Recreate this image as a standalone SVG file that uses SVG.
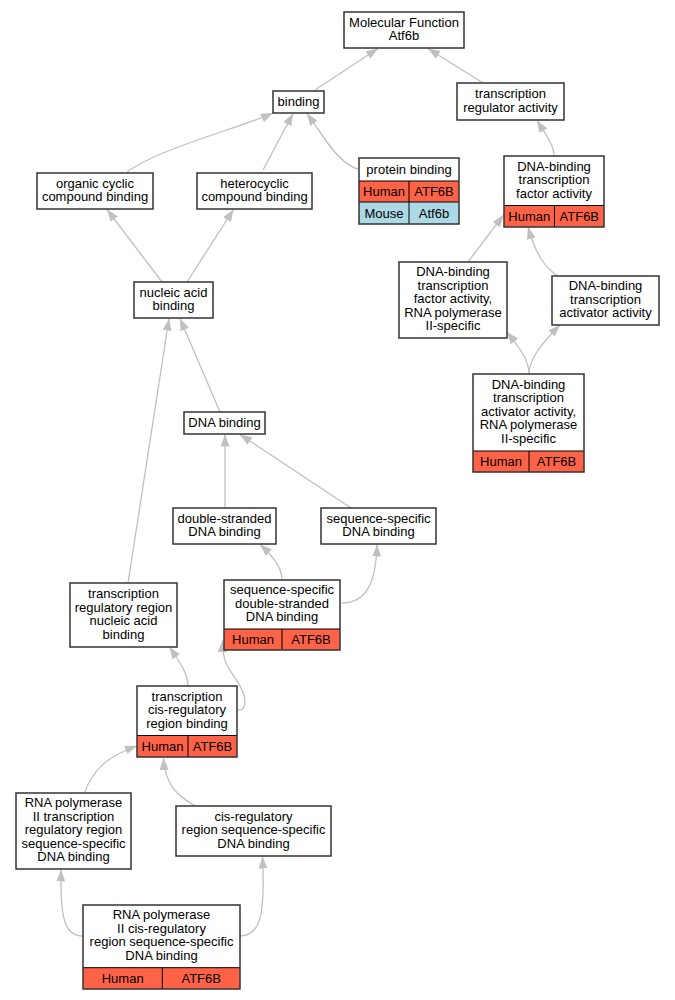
<svg xmlns="http://www.w3.org/2000/svg" width="675" height="1000" viewBox="0 0 675 1000">
<defs>
<style>
text{font-family:"Liberation Sans",Arial,sans-serif;font-size:13px;fill:#000;text-anchor:middle}
.box{fill:#fff;stroke:#333;stroke-width:1.5}
.frame{fill:none;stroke:#333;stroke-width:1.5}
.top{fill:#fff}
.hum{fill:#ff6347}
.mou{fill:#add8e6}
.cell{fill:none;stroke:#000;stroke-width:1}
.edge{fill:none;stroke:#c0c0c0;stroke-width:1.3;marker-end:url(#ah)}
</style>
<marker id="ah" viewBox="0 0 12 9" refX="12" refY="4.5" markerWidth="12" markerHeight="9" markerUnits="userSpaceOnUse" orient="auto">
<path d="M0,0 L12,4.5 L0,9 z" fill="#c0c0c0"/>
</marker>
</defs>
<rect width="675" height="1000" fill="#fff"/>
<g id="edges">
<path class="edge" d="M315,90 L378,48.5"/>
<path class="edge" d="M483,83 L428,48.5"/>
<path class="edge" d="M554,156 C554,146 548,138 537,120.5"/>
<path class="edge" d="M127,172 C160,148 240,128 273,113"/>
<path class="edge" d="M263,170 L293,113.5"/>
<path class="edge" d="M358,169 C347,166 337,156 327,142 L307,113.5"/>
<path class="edge" d="M162,282 L107,209.5"/>
<path class="edge" d="M187,282 L233.5,209.5"/>
<path class="edge" d="M468,262 L503.5,215"/>
<path class="edge" d="M558,276 C545,268 536,255 528,227"/>
<path class="edge" d="M529,374 C529,362 523,352 507,332"/>
<path class="edge" d="M529,374 C529,360 540,345 560,325"/>
<path class="edge" d="M220,412 L180,318.5"/>
<path class="edge" d="M128,583 L169,318.5"/>
<path class="edge" d="M225,508 L225,434.5"/>
<path class="edge" d="M351,508 L240,434.5"/>
<path class="edge" d="M282,580 C282,570 277,560 260,544.5"/>
<path class="edge" d="M342,603 C365,603 376,585 377,544.5"/>
<path class="edge" d="M188,686 C188,675 182,665 169.5,647"/>
<path class="edge" d="M238,710 C248,710 246,697 240,686 C232,671 222,666 222.5,640"/>
<path class="edge" d="M85,792 C92,772 105,757 137,746"/>
<path class="edge" d="M195,806 C180,797 165,787 163.5,758"/>
<path class="edge" d="M83,936 C65,936 60,920 61,869.5"/>
<path class="edge" d="M240,936 C262,936 265,910 262.5,856.5"/>
</g>
<g id="n_mf">
<rect class="box" x="344" y="12" width="120" height="36"/>
<text x="404" y="26.6">Molecular Function</text>
<text x="404" y="40.1">Atf6b</text>
</g>
<g id="n_binding">
<rect class="box" x="273" y="91" width="51" height="22"/>
<text x="298.5" y="106.3">binding</text>
</g>
<g id="n_tra">
<rect class="box" x="457" y="83" width="107" height="37"/>
<text x="510.5" y="98.1">transcription</text>
<text x="510.5" y="111.6">regulator activity</text>
</g>
<g id="n_protein">
<rect class="top" x="359" y="158" width="100" height="23"/>
<rect class="hum" x="359" y="181" width="100" height="21"/>
<rect class="mou" x="359" y="202" width="100" height="22"/>
<path class="cell" d="M359,181 H459 M359,202 H459 M409,181 V224"/>
<rect class="frame" x="359" y="158" width="100" height="66"/>
<text x="409" y="173.8">protein binding</text>
<text x="384" y="196">Human</text>
<text x="434" y="196">ATF6B</text>
<text x="384" y="217.5">Mouse</text>
<text x="434" y="217.5">Atf6b</text>
</g>
<g id="n_dbtf">
<rect class="top" x="504" y="156" width="100" height="49.5"/>
<rect class="hum" x="504" y="205.5" width="100" height="21.5"/>
<path class="cell" d="M504,205.5 H604 M554.5,205.5 V227"/>
<rect class="frame" x="504" y="156" width="100" height="71"/>
<text x="554" y="170.5">DNA-binding</text>
<text x="554" y="184">transcription</text>
<text x="554" y="197.5">factor activity</text>
<text x="529.3" y="220.8">Human</text>
<text x="579.3" y="220.8">ATF6B</text>
</g>
<g id="n_occb">
<rect class="box" x="37" y="173" width="116" height="36"/>
<text x="95" y="187.5">organic cyclic</text>
<text x="95" y="201">compound binding</text>
</g>
<g id="n_hccb">
<rect class="box" x="197" y="173" width="115" height="36"/>
<text x="254.5" y="187.5">heterocyclic</text>
<text x="254.5" y="201">compound binding</text>
</g>
<g id="n_nab">
<rect class="box" x="134" y="282" width="79" height="36"/>
<text x="173.5" y="296.5">nucleic acid</text>
<text x="173.5" y="310">binding</text>
</g>
<g id="n_dbtf2">
<rect class="box" x="399" y="262" width="108" height="76"/>
<text x="453" y="276.3">DNA-binding</text>
<text x="453" y="289.8">transcription</text>
<text x="453" y="303.3">factor activity,</text>
<text x="453" y="316.8">RNA polymerase</text>
<text x="453" y="330.3">II-specific</text>
</g>
<g id="n_dbta">
<rect class="box" x="552" y="276" width="107" height="49"/>
<text x="605.5" y="290.3">DNA-binding</text>
<text x="605.5" y="303.8">transcription</text>
<text x="605.5" y="317.3">activator activity</text>
</g>
<g id="n_dbta2">
<rect class="top" x="473" y="374" width="111" height="77"/>
<rect class="hum" x="473" y="451" width="111" height="21"/>
<path class="cell" d="M473,451 H584 M529,451 V472"/>
<rect class="frame" x="473" y="374" width="111" height="98"/>
<text x="528.5" y="388.8">DNA-binding</text>
<text x="528.5" y="402.3">transcription</text>
<text x="528.5" y="415.8">activator activity,</text>
<text x="528.5" y="429.3">RNA polymerase</text>
<text x="528.5" y="442.8">II-specific</text>
<text x="501" y="466">Human</text>
<text x="556.5" y="466">ATF6B</text>
</g>
<g id="n_dnab">
<rect class="box" x="184" y="412" width="81" height="22"/>
<text x="224.5" y="427.3">DNA binding</text>
</g>
<g id="n_dsdb">
<rect class="box" x="173" y="508" width="103" height="36"/>
<text x="224.5" y="522.5">double-stranded</text>
<text x="224.5" y="536">DNA binding</text>
</g>
<g id="n_ssdb">
<rect class="box" x="321" y="508" width="115" height="36"/>
<text x="378.5" y="522.5">sequence-specific</text>
<text x="378.5" y="536">DNA binding</text>
</g>
<g id="n_trrnab">
<rect class="box" x="70" y="583" width="107" height="64"/>
<text x="123.5" y="598">transcription</text>
<text x="123.5" y="611.5">regulatory region</text>
<text x="123.5" y="625">nucleic acid</text>
<text x="123.5" y="638.5">binding</text>
</g>
<g id="n_ssdsdb">
<rect class="top" x="224" y="580" width="116" height="49"/>
<rect class="hum" x="224" y="629" width="116" height="21"/>
<path class="cell" d="M224,629 H340 M282,629 V650"/>
<rect class="frame" x="224" y="580" width="116" height="70"/>
<text x="282" y="594.3">sequence-specific</text>
<text x="282" y="607.8">double-stranded</text>
<text x="282" y="621.3">DNA binding</text>
<text x="253" y="644">Human</text>
<text x="311" y="644">ATF6B</text>
</g>
<g id="n_tcrrb">
<rect class="top" x="137" y="686" width="100" height="49.5"/>
<rect class="hum" x="137" y="735.5" width="100" height="21.5"/>
<path class="cell" d="M137,735.5 H237 M188,735.5 V757"/>
<rect class="frame" x="137" y="686" width="100" height="71"/>
<text x="187" y="700.5">transcription</text>
<text x="187" y="714">cis-regulatory</text>
<text x="187" y="727.5">region binding</text>
<text x="162.5" y="750.8">Human</text>
<text x="212.5" y="750.8">ATF6B</text>
</g>
<g id="n_rp2trr">
<rect class="box" x="16" y="793" width="115" height="76"/>
<text x="73.5" y="807.3">RNA polymerase</text>
<text x="73.5" y="820.8">II transcription</text>
<text x="73.5" y="834.3">regulatory region</text>
<text x="73.5" y="847.8">sequence-specific</text>
<text x="73.5" y="861.3">DNA binding</text>
</g>
<g id="n_crrss">
<rect class="box" x="176" y="806" width="155" height="50"/>
<text x="253.5" y="820.8">cis-regulatory</text>
<text x="253.5" y="834.3">region sequence-specific</text>
<text x="253.5" y="847.8">DNA binding</text>
</g>
<g id="n_rp2crr">
<rect class="top" x="83" y="905" width="157" height="62.7"/>
<rect class="hum" x="83" y="967.7" width="157" height="21.3"/>
<path class="cell" d="M83,967.7 H240 M162.3,967.7 V989"/>
<rect class="frame" x="83" y="905" width="157" height="84"/>
<text x="161.5" y="919.4">RNA polymerase</text>
<text x="161.5" y="932.9">II cis-regulatory</text>
<text x="161.5" y="946.4">region sequence-specific</text>
<text x="161.5" y="959.9">DNA binding</text>
<text x="122.7" y="983">Human</text>
<text x="201.2" y="983">ATF6B</text>
</g>
</svg>
